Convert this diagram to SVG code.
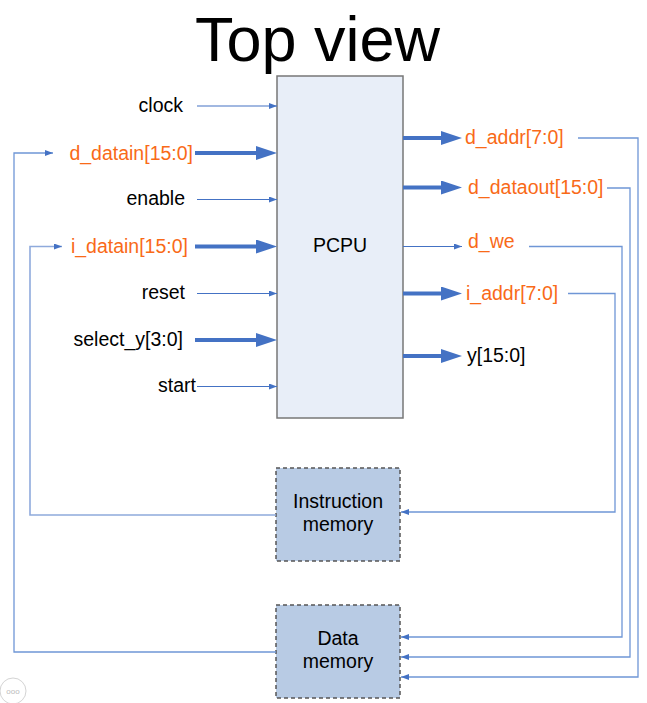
<svg xmlns="http://www.w3.org/2000/svg" width="647" height="703" viewBox="0 0 647 703">
<style>
text{font-family:"Liberation Sans",Arial,sans-serif;font-size:19.5px;fill:#000}
.o{fill:#f96a18}
.e{text-anchor:end}
.m{text-anchor:middle}
.thin{stroke:#4472c4;stroke-width:1.1;fill:none}
.thick{stroke:#4472c4;stroke-width:4;fill:none}
.loop{stroke:#6f96d6;stroke-width:1.3;fill:none}
.loop2{stroke:#8faadc;stroke-width:1.6;fill:none}
.mem{fill:#b8cbe4;stroke:#555;stroke-width:1.5;stroke-dasharray:4 3}
</style>
<defs>
<marker id="ah" markerUnits="userSpaceOnUse" markerWidth="8" markerHeight="6" refX="8" refY="3" orient="auto">
<path d="M0,0 L8,3 L0,6 z" fill="#4472c4"/>
</marker>
<marker id="ahb" markerUnits="userSpaceOnUse" markerWidth="21" markerHeight="14" refX="3" refY="7" orient="auto">
<path d="M0,0 L21,7 L0,14 z" fill="#4472c4"/>
</marker>
</defs>
<rect width="647" height="703" fill="#fff"/>
<text x="317.5" y="61" class="m" style="font-size:63px">Top view</text>

<g id="pcpu">
<rect x="277" y="76" width="126" height="342" fill="#e8eef8" stroke="#777" stroke-width="1.5"/>
<text x="340" y="252" class="m">PCPU</text>
</g>
<g id="imem">
<rect class="mem" x="276" y="468" width="124" height="93"/>
<text x="338" y="508" class="m">Instruction</text>
<text x="338" y="531" class="m">memory</text>
</g>
<g id="dmem">
<rect class="mem" x="276" y="605" width="124" height="93"/>
<text x="338" y="645" class="m">Data</text>
<text x="338" y="668" class="m">memory</text>
</g>

<g id="labels">
<text x="183" y="112" class="e">clock</text>
<text x="193" y="159.5" class="e o">d_datain[15:0]</text>
<text x="185" y="205" class="e">enable</text>
<text x="188" y="252.5" class="e o">i_datain[15:0]</text>
<text x="185" y="298.5" class="e">reset</text>
<text x="183" y="345.5" class="e">select_y[3:0]</text>
<text x="196" y="392" class="e">start</text>
<text x="465" y="144" class="o">d_addr[7:0]</text>
<text x="468" y="193.5" class="o">d_dataout[15:0]</text>
<text x="468" y="248" class="o">d_we</text>
<text x="466" y="299.5" class="o">i_addr[7:0]</text>
<text x="467" y="362">y[15:0]</text>
</g>

<g id="connectors">
<path class="thin" d="M197,106 H277" marker-end="url(#ah)"/>
<path class="thick" d="M195,153 H259" marker-end="url(#ahb)"/>
<path class="thin" d="M197,199.5 H277" marker-end="url(#ah)"/>
<path class="thick" d="M195,246.5 H259" marker-end="url(#ahb)"/>
<path class="thin" d="M197,293.5 H277" marker-end="url(#ah)"/>
<path class="thick" d="M195,340 H259" marker-end="url(#ahb)"/>
<path class="thin" d="M197,386.5 H277" marker-end="url(#ah)"/>

<path class="thick" d="M403,138 H444" marker-end="url(#ahb)"/>
<path class="thick" d="M403,187.5 H444" marker-end="url(#ahb)"/>
<path class="thin" d="M403,246.5 H462" marker-end="url(#ah)"/>
<path class="thick" d="M403,293.5 H444" marker-end="url(#ahb)"/>
<path class="thick" d="M403,356 H444" marker-end="url(#ahb)"/>

<path class="loop" d="M578,138 H638 V677 H401" marker-end="url(#ah)"/>
<path class="loop" d="M607,188 H630 V657 H401" marker-end="url(#ah)"/>
<path class="loop" d="M529,246.5 H622 V637 H401" marker-end="url(#ah)"/>
<path class="loop" d="M568,293.5 H615 V512 H401" marker-end="url(#ah)"/>

<path class="loop2" d="M276,515 H30 V246.5 H62" marker-end="url(#ah)"/>
<path class="loop" d="M276,652 H14 V153 H53" marker-end="url(#ah)"/>
</g>

<g id="badge">
<circle cx="13" cy="691" r="13" fill="#fff" stroke="#d4d4d4" stroke-width="1"/>
<text x="13" y="694" class="m" style="font-size:8px;fill:#bbb">ooo</text>
</g>
</svg>
